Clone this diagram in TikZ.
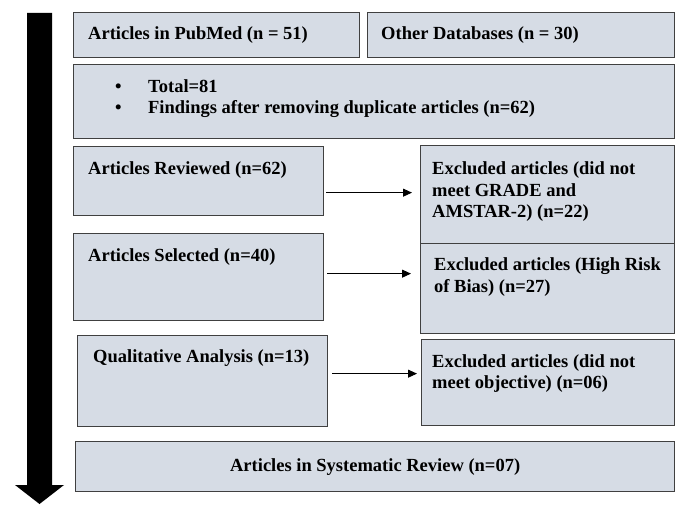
\documentclass[tikz,border=0pt]{standalone}
\usepackage{fontspec}
\setmainfont{Liberation Serif}
\usepackage{tikz}
\usetikzlibrary{arrows.meta}

\definecolor{boxfill}{HTML}{D6DCE5}
\definecolor{boxline}{HTML}{404040}

\tikzset{
  box/.style={draw=boxline, fill=boxfill, line width=1.3pt, inner sep=0pt, anchor=north west},
  txt/.style={anchor=west, inner sep=0pt, align=left, font=\bfseries\fontsize{18.5}{21.5}\selectfont},
  link/.style={-{Triangle[length=9pt,width=8pt]}, line width=0.9pt}
}

\begin{document}
\begin{tikzpicture}[x=1pt, y=-1pt]
    \useasboundingbox (0, 0) rectangle (677, 505);
    % time line on the left
    \fill (27, 13) -- (52, 13) -- (52, 485) -- (64, 485) -- (39.5, 504)
      -- (15, 485) -- (27, 485) -- cycle;
    % boxes
    \node[box, minimum width=286, minimum height=45] (pubmed) at (73, 12) {};
    \node[box, minimum width=307, minimum height=45] (other) at (367, 12) {};
    \node[box, minimum width=601, minimum height=74] (total) at (73, 64) {};
    \node[box, minimum width=250, minimum height=69] (rev) at (73, 146) {};
    \node[box, minimum width=254, minimum height=98] (exc1) at (420, 145) {};
    \node[box, minimum width=250, minimum height=87] (sel) at (73, 233) {};
    \node[box, minimum width=254, minimum height=90] (exc2) at (420, 243) {};
    \node[box, minimum width=250, minimum height=91] (qual) at (77, 335) {};
    \node[box, minimum width=253, minimum height=86] (exc3) at (421, 339) {};
    \node[box, minimum width=599, minimum height=50] (sys) at (75, 441) {};
    % texts
    \node[txt] (pubmedtxt) at (88, 35) {Articles in PubMed (n = 51)};
    \node[txt] (othertxt) at (381, 35) {Other Databases (n = 30)};
    \node[txt] (totaltxt) at (115, 98.5) {\makebox[33pt][l]{\textbullet}Total=81\\
      \makebox[33pt][l]{\textbullet}Findings after removing duplicate articles (n=62)};
    \node[txt] (revtxt) at (88, 170) {Articles Reviewed (n=62)};
    \node[txt] (exc1txt) at (432, 192) {Excluded articles (did not\\ meet GRADE and\\ AMSTAR-2) (n=22)};
    \node[txt] (seltxt) at (88, 257) {Articles Selected (n=40)};
    \node[txt] (exc2txt) at (434, 277) {Excluded articles (High Risk\\ of Bias) (n=27)};
    \node[txt] (qualtxt) at (93, 358) {Qualitative Analysis (n=13)};
    \node[txt] (exc3txt) at (432, 373.5) {Excluded articles (did not\\ meet objective) (n=06)};
    \node[txt, anchor=center] (systxt) at (sys.center) {Articles in Systematic Review (n=07)};
    % arrows
    \draw[link, shorten <=2pt, shorten >=8pt] ([yshift=-11.5pt]rev.east) -- ([yshift=-11.5pt]rev.east -| exc1.west);
    \draw[link, shorten <=3pt, shorten >=9pt] ([yshift=3.5pt]sel.east) -- ([yshift=3.5pt]sel.east -| exc2.west);
    \draw[link, shorten <=4pt, shorten >=4pt] ([yshift=7.5pt]qual.east) -- ([yshift=7.5pt]qual.east -| exc3.west);
  \end{tikzpicture}
\end{document}
